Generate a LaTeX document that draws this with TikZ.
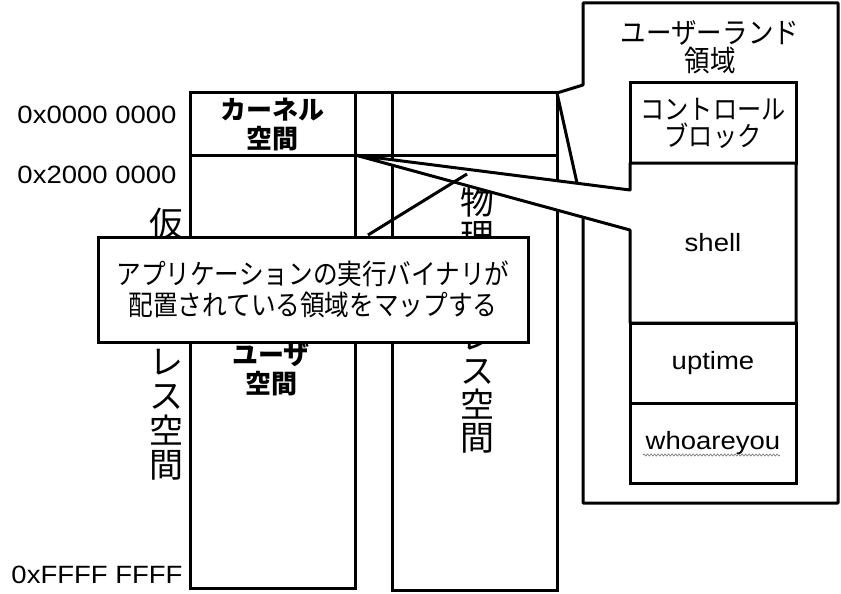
\documentclass[tikz,border=0pt]{standalone}
\usepackage{fontspec}
\setmainfont{Liberation Sans}[FakeStretch=1.1]
\newfontfamily\jp{Noto Sans CJK JP}[FakeStretch=0.88]
\newfontfamily\jpn{Noto Sans CJK JP}
\usetikzlibrary{decorations.pathmorphing}
\newcommand\fsz[2]{\fontsize{#1}{#2}\selectfont}
\begin{document}
\begin{tikzpicture}[x=1pt,y=-1pt,
  ln/.style={line width=3pt},
  wbox/.style={ln, draw=black, fill=white},
  lat/.style={inner sep=0pt, anchor=base, font=\fsz{25}{28}},
  vert/.style={inner sep=0pt, align=center, font=\jpn\fsz{34}{34.4}},
  boldlbl/.style={inner sep=0pt, align=center, font=\jpn\bfseries\fsz{26}{29}},
  cellbox/.style={wbox, minimum width=166pt, minimum height=80pt, inner sep=0pt, font=\fsz{25}{28}},
]
\useasboundingbox (0,0) rectangle (841,594);
\fill[white] (0,0) rectangle (841,594);

% address space columns
\draw[ln] (190,93) rectangle (355,588);
\draw[ln] (392,93) rectangle (557,590);
\draw[ln] (355,93) -- (392,93);
\draw[ln] (190,155) -- (557,155);

% vertical titles
\node[vert] (vv) at (166,344.5) {仮\\想\\ア\\ド\\レ\\ス\\空\\間};
\node[vert, font=\jpn\fsz{34}{33.7}] (pv) at (477,320) {物\\理\\ア\\ド\\レ\\ス\\空\\間};

% labels inside virtual column
\node[boldlbl] (kl) at (272,124) {カーネル\\空間};
\node[boldlbl] (ul) at (271,370) {ユーザ\\空間};

% addresses
\node[lat] (a0) at (97,123) {0x0000 0000};
\node[lat] (a2) at (97,183) {0x2000 0000};
\node[lat] (af) at (97,583) {0xFFFF FFFF};

% userland panel (callout)
\coordinate (ptip) at (557,93);
\draw[wbox, line join=round] (583,3) -- (838,3) -- (838,503) -- (583,503) -- (583,210) -- (ptip) -- (583,85) -- cycle;
\node[inner sep=0pt, align=center, font=\jp\fsz{29}{28}] (uland) at (710,47) {ユーザーランド\\領域};

% stack of programs
\node[cellbox, align=center, font=\jp\fsz{27.5}{27}] (cb) at (713,123) {コントロール\\ブロック};
\node[cellbox] (up) at (713,363) {uptime};
\node[cellbox] (wh) at (713,443) {whoareyou};
\draw[gray, line width=0.7pt, decorate, decoration={snake, amplitude=1pt, segment length=3.5pt}] (643,455) -- (780,455);

% shell callout
\coordinate (stip) at (355,155);
\draw[wbox, line join=round] (630,163) -- (796,163) -- (796,323) -- (630,323) -- (630,230) -- (stip) -- (630,190) -- cycle;
\node[inner sep=0pt, font=\fsz{25}{28}] (sh) at (713,243) {shell};

% text callout
\node[wbox, minimum width=430pt, minimum height=105pt, inner sep=0pt, align=center, font=\jp\fsz{28}{31}] (co) at (313,289.5) {アプリケーションの実行バイナリが\\配置されている領域をマップする};
\coordinate (cl1) at (368,235);
\coordinate (cl2) at (467,174);
\draw[ln] (cl1) -- (cl2);
\end{tikzpicture}
\end{document}
